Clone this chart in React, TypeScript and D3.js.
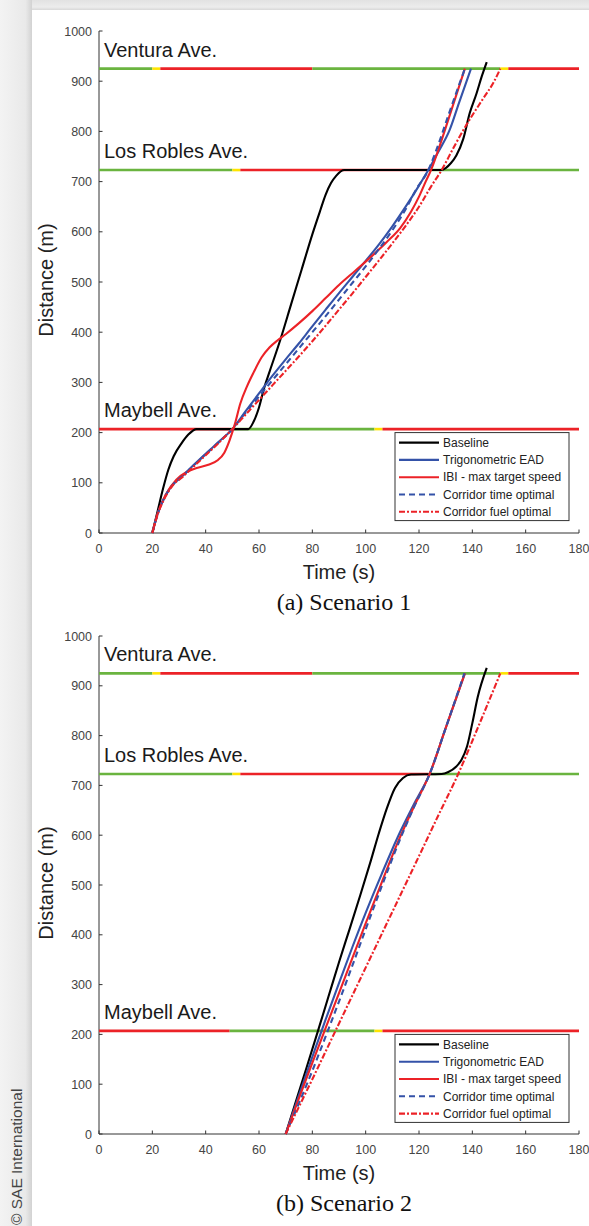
import React from "react";
import * as d3 from "d3";

type Pt = [number, number];

// signal phases along each street: [start s, end s, colour key]
const venturaPhases: [number, number, string][] = [
  [0, 20, "g"], [20, 23, "y"], [23, 80, "r"], [80, 150.5, "g"], [150.5, 153.5, "y"], [153.5, 180, "r"],
];
const losRoblesPhases: [number, number, string][] = [
  [0, 50, "g"], [50, 53, "y"], [53, 123.5, "r"], [123.5, 180, "g"],
];
const maybellPhases: [number, number, string][] = [
  [0, 49, "r"], [49, 103.3, "g"], [103.3, 106.3, "y"], [106.3, 180, "r"],
];
const streets = [
  { name: "Ventura Ave.", dist: 925, phases: venturaPhases },
  { name: "Los Robles Ave.", dist: 723, phases: losRoblesPhases },
  { name: "Maybell Ave.", dist: 207, phases: maybellPhases },
];

const legendLabels = [
  "Baseline",
  "Trigonometric EAD",
  "IBI - max target speed",
  "Corridor time optimal",
  "Corridor fuel optimal",
];

// Scenario 1 trajectories (time s, distance m)
const s1Baseline: Pt[] = [[20,0],[22,44],[24,88],[26,126],[28,153],[31,179],[33.5,196],[36.6,207],[56,207],[58,222],[60,250],[62,290],[64,322],[68,385],[72,455],[76,525],[80,595],[83,643],[85,674],[87,697],[89,712],[92,723],[128,723],[130,727],[132,737],[134,752],[136.6,785],[139,836],[141.6,876],[143.5,909],[145.4,938]];
const s1Trig: Pt[] = [[20,0],[22,38],[25,75],[28,98],[31,112],[35,133],[40,158],[45,182],[50,207],[55,243],[60,278],[65,313],[70,346],[75,378],[79,405],[85,445],[90,478],[95,510],[100,542],[105,575],[110,611],[115,650],[120,692],[123.5,723],[127,757],[131.5,803],[135,857],[139.5,925]];
const s1Ibi: Pt[] = [[20,0],[22,39],[25,76],[29,106],[33,122],[37,130],[41,136],[44.5,145],[47,160],[49,185],[51,218],[53,258],[55.5,292],[58,320],[61,350],[64,370],[67,384],[70,396],[75,418],[80,442],[85,468],[90,494],[96,522],[102,550],[108,580],[113,608],[117,640],[120,670],[122.5,700],[124.5,723],[128,775],[132,840],[137.2,925]];
const s1TimeOpt: Pt[] = [[20,0],[22,38],[25,75],[28,98],[31,112],[35,132],[40,157],[45,181],[50,207],[55,240],[60,272],[65,304],[70,336],[75,368],[80,400],[85,432],[90,465],[95,498],[100,531],[105,566],[110,603],[115,645],[119,685],[123.5,723],[127,770],[131,832],[137.2,925]];
const s1FuelOpt: Pt[] = [[20,0],[22,37],[25,73],[28,97],[31,110],[35,130],[40,155],[45,180],[50,207],[55,236],[60,265],[65,294],[70,323],[75,352],[80,382],[85,413],[90,445],[95,477],[100,510],[105,543],[110,577],[115,612],[120,650],[124.5,690],[128.5,723],[133,768],[138,815],[144,865],[148,898],[150.5,925]];

// Scenario 2 trajectories
const s2Baseline: Pt[] = [[70,0],[74,68],[78,136],[82,205],[86,275],[90,345],[94,412],[98,480],[102,550],[105,605],[108,655],[111,695],[114,715],[117,722],[128.5,723],[131,727],[134,738],[136,752],[138,778],[140,825],[142,877],[145.4,936]];
const s2Trig: Pt[] = [[70,0],[75,78],[80,155],[85,230],[90,303],[95,375],[100,444],[106,522],[112,596],[118,661],[124,723],[130,815],[137.2,925]];
const s2Ibi: Pt[] = [[70,0],[75,72],[80,143],[85,213],[90,283],[95,353],[100,423],[106,505],[112,585],[118,656],[124,723],[130,815],[137.2,925]];
const s2TimeOpt: Pt[] = [[70,0],[75,62],[80,127],[85,196],[90,266],[95,338],[100,411],[106,497],[112,580],[118,655],[124,723],[130,815],[137,925]];
const s2FuelOpt: Pt[] = [[70,0],[80,110],[90,222],[100,334],[110,446],[120,558],[127,637],[134.7,723],[142,815],[150.5,925]];

const sigColor: Record<string, string> = { g: "#6ab43f", y: "#ffe400", r: "#ec2227" };
const styles = [
  { color: "#000000", dash: "" },
  { color: "#3452a8", dash: "" },
  { color: "#ec2227", dash: "" },
  { color: "#3452a8", dash: "6,4" },
  { color: "#ec2227", dash: "6,2,2,2" },
];
const sans = "'Liberation Sans', Arial, Helvetica, sans-serif";

const Panel = ({ y0, y1, series, caption }: { y0: number; y1: number; series: Pt[][]; caption: string }) => {
  const x = d3.scaleLinear([0, 180], [99, 579]);
  const y = d3.scaleLinear([0, 1000], [y0, y1]);
  const line = d3
    .line<Pt>()
    .x((d) => x(d[0]))
    .y((d) => y(d[1]))
    .curve(d3.curveMonotoneX);
  const legTop = y(207) + 3.5;
  return (
    <g>
      {/* axes */}
      <path d={`M${x(0)},${y(1000)}V${y(0)}H${x(180)}`} fill="none" stroke="#333" strokeWidth={1} />
      {y.ticks(10).map((t) => (
        <g key={"y" + t}>
          <line x1={x(0)} x2={x(0) + 3.5} y1={y(t)} y2={y(t)} stroke="#333" />
          <text x={92} y={y(t) + 4.5} textAnchor="end" fontSize={12.5} fill="#444" fontFamily={sans}>
            {t}
          </text>
        </g>
      ))}
      {x.ticks(9).map((t) => (
        <g key={"x" + t}>
          <line x1={x(t)} x2={x(t)} y1={y(0)} y2={y(0) - 3.5} stroke="#333" />
          <text x={x(t)} y={y(0) + 19.5} textAnchor="middle" fontSize={12.5} fill="#444" fontFamily={sans}>
            {t}
          </text>
        </g>
      ))}
      <text x={339} y={y(0) + 46} textAnchor="middle" fontSize={20} fill="#222" fontFamily={sans}>
        Time (s)
      </text>
      <text
        transform={`translate(53,${(y0 + y1) / 2 - 2}) rotate(-90)`}
        textAnchor="middle"
        fontSize={20}
        fill="#222"
        fontFamily={sans}
      >
        Distance (m)
      </text>
      <text x={344} y={y(0) + 77} textAnchor="middle" fontSize={24} fill="#111" fontFamily="'Liberation Serif', 'Times New Roman', serif">
        {caption}
      </text>

      {/* signals */}
      {streets.map((s) => (
        <g key={s.name}>
          {s.phases.map(([a, b, c], i) => (
            <line key={i} x1={x(a)} x2={x(b)} y1={y(s.dist)} y2={y(s.dist)} stroke={sigColor[c]} strokeWidth={2.6} />
          ))}
          <text x={104} y={y(s.dist) - 12} fontSize={20} fill="#1a1a1a" fontFamily={sans}>
            {s.name}
          </text>
        </g>
      ))}

      {/* trajectories */}
      {series.map((s, i) => (
        <path
          key={i}
          d={line(s) || ""}
          fill="none"
          stroke={styles[i].color}
          strokeWidth={2.1}
          strokeDasharray={styles[i].dash}
        />
      ))}

      {/* legend */}
      <rect x={395} y={legTop} width={174} height={88} fill="#fff" stroke="#333" strokeWidth={1} />
      {legendLabels.map((l, i) => {
        const ly = legTop + 10 + i * 17.3;
        return (
          <g key={l}>
            <line x1={399} x2={439} y1={ly} y2={ly} stroke={styles[i].color} strokeWidth={2.1} strokeDasharray={styles[i].dash} />
            <text x={443} y={ly + 4.2} fontSize={12} fill="#222" fontFamily={sans}>
              {l}
            </text>
          </g>
        );
      })}
    </g>
  );
};

export default function App() {
  return (
    <svg width={589} height={1226} style={{ position: "absolute", left: 0, top: 0, display: "block" }}>
      <defs>
        <linearGradient id="leftShade" x1="0" x2="1" y1="0" y2="0">
          <stop offset="0" stopColor="#f3f3f3" />
          <stop offset="0.8" stopColor="#e9e9e9" />
          <stop offset="1" stopColor="#d2d2d2" />
        </linearGradient>
        <linearGradient id="topShade" x1="0" x2="0" y1="0" y2="1">
          <stop offset="0" stopColor="#e2e2e2" />
          <stop offset="0.7" stopColor="#ececec" />
          <stop offset="1" stopColor="#d8d8d8" />
        </linearGradient>
      </defs>
      <rect width={589} height={1226} fill="#fff" />
      <rect x={0} y={0} width={589} height={10} fill="url(#topShade)" />
      <rect x={0} y={0} width={32} height={1226} fill="url(#leftShade)" />
      <text transform="translate(22,1225) rotate(-90)" fontSize={15.5} fill="#444" fontFamily={sans}>
        © SAE International
      </text>
      <Panel y0={533} y1={31} series={[s1Baseline, s1Trig, s1Ibi, s1TimeOpt, s1FuelOpt]} caption="(a) Scenario 1" />
      <Panel y0={1134} y1={636} series={[s2Baseline, s2Trig, s2Ibi, s2TimeOpt, s2FuelOpt]} caption="(b) Scenario 2" />
    </svg>
  );
}
